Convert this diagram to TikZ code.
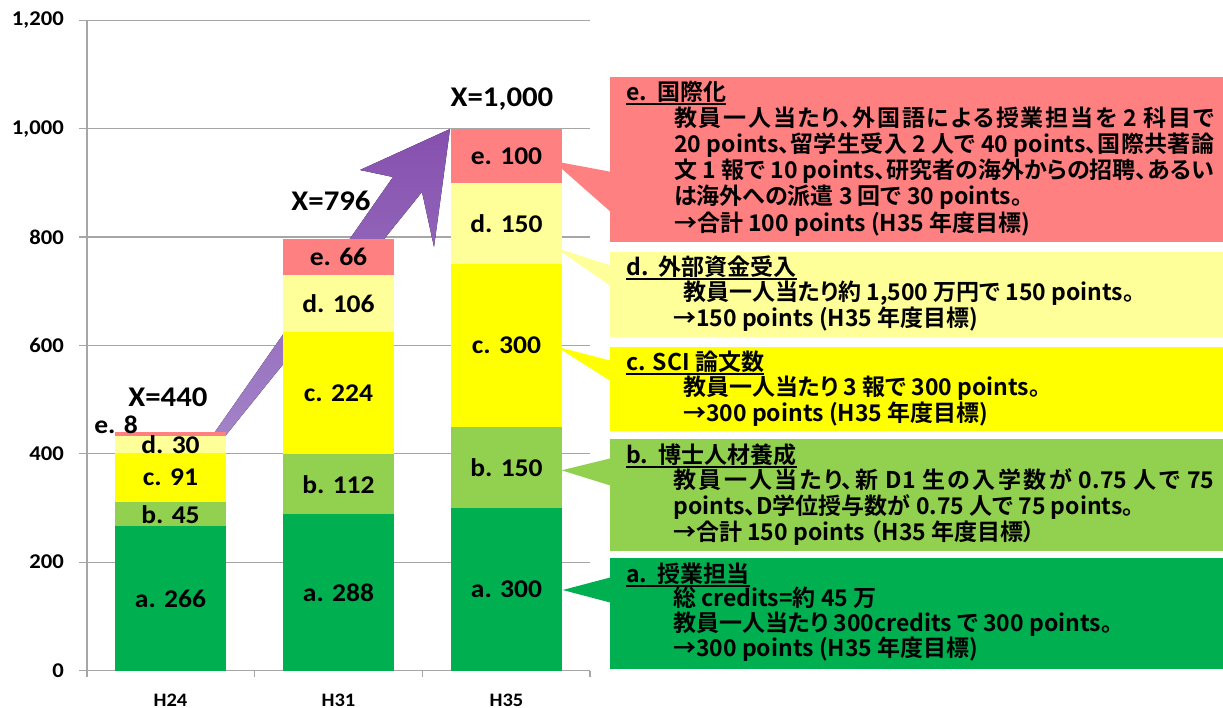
\documentclass[tikz,border=0pt]{standalone}
\usepackage{fontspec}
\newfontfamily\numfont{Carlito}[FakeStretch=1.08]
\newfontfamily\jpfont{Noto Sans CJK JP Bold}[RawFeature=+palt]
\definecolor{colA}{HTML}{00B050}
\definecolor{colB}{HTML}{92D050}
\definecolor{colC}{HTML}{FFFF00}
\definecolor{colD}{HTML}{FFFF99}
\definecolor{colE}{HTML}{FF8080}
\definecolor{gridgray}{HTML}{A6A6A6}
\definecolor{arrowlow}{HTML}{A384C9}
\definecolor{arrowhigh}{HTML}{8650AE}
\newsavebox\ulbox
\newcommand\ulbar[1]{\leavevmode\sbox\ulbox{#1}\rlap{\rule[-5pt]{\wd\ulbox}{1.8pt}}\usebox\ulbox}
\newcommand\jpsetup[1]{\XeTeXlinebreaklocale "ja"\XeTeXlinebreakskip=0pt plus 4pt minus 1pt
  \tolerance=9999\hbadness=10000\hfuzz=20pt\baselineskip=#1}

\tikzset{
  grid line/.style={draw=gridgray, line width=1.3pt},
  barlabel/.style={font=\numfont\bfseries\fontsize{25.5}{30}\selectfont, inner sep=0},
  totallabel/.style={font=\numfont\bfseries\fontsize{28.5}{32}\selectfont, inner sep=0, anchor=base},
  ytick/.style={font=\numfont\bfseries\fontsize{21}{25}\selectfont, inner sep=0, anchor=east},
  xtick/.style={font=\numfont\bfseries\fontsize{19}{22}\selectfont, inner sep=0, anchor=base},
  notebox/.style={anchor=north west, minimum width=613pt, inner sep=0, outer sep=0, draw=none},
  notetext/.style={anchor=base west, inner sep=0, font=\jpfont\fontsize{23}{26}\selectfont}
}

\begin{document}
\begin{tikzpicture}[x=1pt, y=-1pt]
\useasboundingbox (0,0) rectangle (1223,707);
\fill[white] (0,0) rectangle (1223,707);

% axes and grid
\begin{scope}[shift={(0,670.5)}, y=0.5417pt]
\draw[grid line] (79,200) -- (590,200);
\draw[grid line] (79,400) -- (590,400);
\draw[grid line] (79,600) -- (590,600);
\draw[grid line] (79,800) -- (590,800);
\draw[grid line] (79,1000) -- (590,1000);
\draw[grid line] (79,1200) -- (590,1200);
\draw[grid line] (87,0) -- (87,1200);
\draw[grid line] (79,0) -- (590,0);
\draw[grid line] (87,0) -- (87,-12);
\draw[grid line] (254.7,0) -- (254.7,-12);
\draw[grid line] (422.3,0) -- (422.3,-12);
\draw[grid line] (590,0) -- (590,-12);

\node[ytick] (t0) at (64,0) {0};
\node[ytick] (t200) at (64,200) {200};
\node[ytick] (t400) at (64,400) {400};
\node[ytick] (t600) at (64,600) {600};
\node[ytick] (t800) at (64,800) {800};
\node[ytick] (t1000) at (64,1000) {1,000};
\node[ytick] (t1200) at (64,1200) {1,200};
\end{scope}

\node[xtick] (h24) at (170.5,706) {H24};
\node[xtick] (h31) at (338.5,706) {H31};
\node[xtick] (h35) at (506.5,706) {H35};

% growth arrow, behind the bars
\fill[bottom color=arrowlow, top color=arrowhigh] (210,439) -- (393,177) -- (360,170)
  -- (450,129) -- (434,247) -- (422,192) -- (218,445) -- cycle;

% stacked bars
\begin{scope}[shift={(0,670.5)}, y=0.5417pt]
\fill[colA] (115,0) rectangle (226,266);
\fill[colB] (115,266) rectangle (226,311);
\fill[colC] (115,311) rectangle (226,402);
\fill[colD] (115,402) rectangle (226,432);
\fill[colE] (115,432) rectangle (226,440);

\fill[colA] (283,0) rectangle (394,288);
\fill[colB] (283,288) rectangle (394,400);
\fill[colC] (283,400) rectangle (394,624);
\fill[colD] (283,624) rectangle (394,730);
\fill[colE] (283,730) rectangle (394,796);

\fill[colA] (451,0) rectangle (562,300);
\fill[colB] (451,300) rectangle (562,450);
\fill[colC] (451,450) rectangle (562,750);
\fill[colD] (451,750) rectangle (562,900);
\fill[colE] (451,900) rectangle (562,1000);

\node[barlabel] (a24) at (170.5,133) {a. 266};
\node[barlabel] (b24) at (170.5,288.5) {b. 45};
\node[barlabel] (c24) at (170.5,356.5) {c. 91};
\node[barlabel] (d24) at (170.5,417) {d. 30};
\node[barlabel] (e24) at (116,453) {e. 8};

\node[barlabel] (a31) at (338.5,144) {a. 288};
\node[barlabel] (b31) at (338.5,344) {b. 112};
\node[barlabel] (c31) at (338.5,512) {c. 224};
\node[barlabel] (d31) at (338.5,677) {d. 106};
\node[barlabel] (e31) at (338.5,763) {e. 66};

\node[barlabel] (a35) at (506.5,150) {a. 300};
\node[barlabel] (b35) at (506.5,375) {b. 150};
\node[barlabel] (c35) at (506.5,600) {c. 300};
\node[barlabel] (d35) at (506.5,825) {d. 150};
\node[barlabel] (e35) at (506.5,950) {e. 100};
\end{scope}

\node[totallabel] (x24) at (168,406) {X=440};
\node[totallabel] (x31) at (331,210) {X=796};
\node[totallabel] (x35) at (502,106) {X=1,000};

% callout pointers
\coordinate (tipE) at (553,161);
\coordinate (tipD) at (554.8,247.4);
\coordinate (tipC) at (556.6,346.7);
\coordinate (tipB) at (561.5,470.3);
\coordinate (tipA) at (562.7,590);
\fill[colE] (tipE) -- (612,172) -- (612,213) -- cycle;
\fill[colD] (tipD) -- (612,266) -- (612,287) -- cycle;
\fill[colC] (tipC) -- (612,361) -- (612,382) -- cycle;
\fill[colB] (tipB) -- (612,458) -- (612,486) -- cycle;
\fill[colA] (tipA) -- (612,577) -- (612,603) -- cycle;

% callout boxes
\node[notebox, fill=colE, minimum height=164.7pt] (boxE) at (610,77) {};
\node[notebox, fill=colD, minimum height=85.3pt] (boxD) at (610,251.7) {};
\node[notebox, fill=colC, minimum height=83.5pt] (boxC) at (610,347.2) {};
\node[notebox, fill=colB, minimum height=111.2pt] (boxB) at (610,439.3) {};
\node[notebox, fill=colA, minimum height=110.5pt] (boxA) at (610,558.3) {};

\node[notetext] (txtE) at (626,100) {\parbox[t]{588pt}{\jpsetup{26.2pt}%
\ulbar{e.\ \ 国際化}\par
\leftskip=48pt 教員一人当たり、外国語による授業担当を 2 科目で\linebreak
20 points、留学生受入 2 人で 40 points、国際共著論\linebreak
文 1 報で 10 points、研究者の海外からの招聘、あるい\linebreak
は海外への派遣 3 回で 30 points。\par
→合計 100 points (H35 年度目標)}};

\node[notetext] (txtD) at (626,275) {\parbox[t]{588pt}{\jpsetup{25.5pt}%
\ulbar{d.\ \ 外部資金受入}\par
\leftskip=57pt 教員一人当たり約 1,500 万円で 150 points。\par
\leftskip=47pt →150 points (H35 年度目標)}};

\node[notetext] (txtC) at (626,370) {\parbox[t]{588pt}{\jpsetup{25.5pt}%
\ulbar{c. SCI 論文数}\par
\leftskip=57pt 教員一人当たり 3 報で 300 points。\par
→300 points (H35 年度目標)}};

\node[notetext] (txtB) at (626,463) {\parbox[t]{588pt}{\jpsetup{25.7pt}%
\ulbar{b.\ \ 博士人材養成}\par
\leftskip=47pt 教員一人当たり、新 D1 生の入学数が 0.75 人で 75\linebreak
points、D学位授与数が 0.75 人で 75 points。\par
→合計 150 points （H35 年度目標）}};

\node[notetext] (txtA) at (626,582) {\parbox[t]{588pt}{\jpsetup{24.7pt}%
\ulbar{a.\ \ 授業担当}\par
\leftskip=47pt 総 credits=約 45 万\par
教員一人当たり 300credits で 300 points。\par
→300 points (H35 年度目標)}};
\end{tikzpicture}
\end{document}
